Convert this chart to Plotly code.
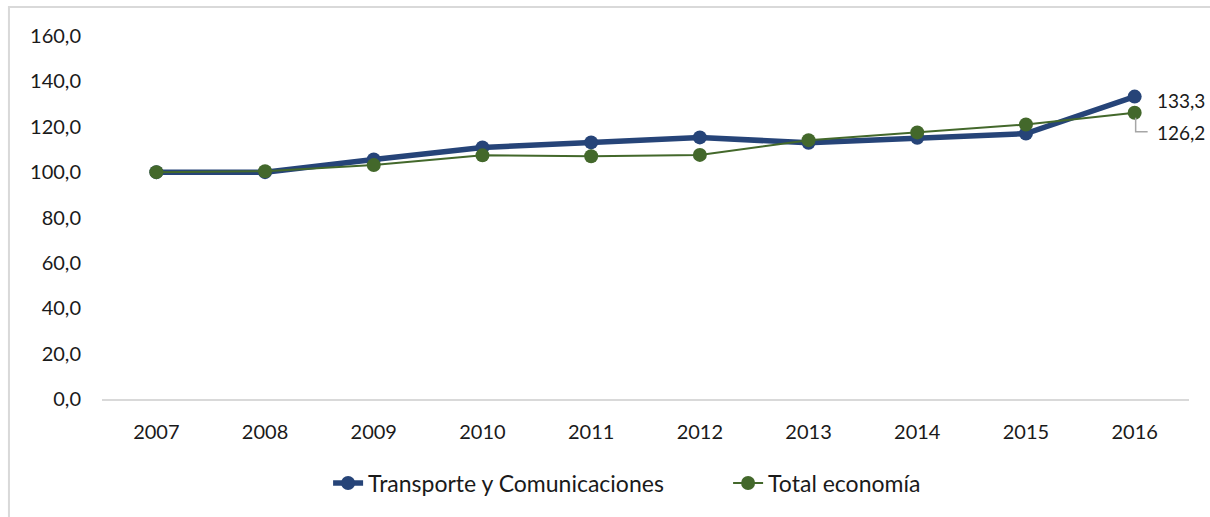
import plotly.graph_objects as go

years = [2007, 2008, 2009, 2010, 2011, 2012, 2013, 2014, 2015, 2016]
transporte = [100.0, 100.0, 105.6, 110.9, 113.1, 115.3, 112.9, 115.1, 117.0, 133.3]
total = [100.0, 100.4, 103.1, 107.4, 107.0, 107.6, 114.1, 117.5, 121.0, 126.2]
y_ticks = [0, 20, 40, 60, 80, 100, 120, 140, 160]

blue = "#264478"
green = "#43682B"
font_name = "Lato"

fig = go.Figure()

fig.add_trace(go.Scatter(
    x=years, y=transporte,
    mode="lines+markers",
    line=dict(color=blue, width=5.5),
    marker=dict(size=14, color=blue),
    name="Transporte y Comunicaciones",
))

fig.add_trace(go.Scatter(
    x=years, y=total,
    mode="lines+markers",
    line=dict(color=green, width=2),
    marker=dict(size=14, color=green),
    name="Total economía",
))

# end labels
fig.add_annotation(
    x=years[-1], y=transporte[-1],
    text=f"{transporte[-1]:.1f}".replace(".", ","),
    showarrow=False, xanchor="left", xshift=20, yshift=-4,
    font=dict(size=19, color="#1a1a1a", family=font_name),
)
fig.add_annotation(
    x=years[-1], y=total[-1],
    text=f"{total[-1]:.1f}".replace(".", ","),
    showarrow=False, xanchor="left", xshift=20, yshift=-20,
    font=dict(size=19, color="#1a1a1a", family=font_name),
)
# elbow leader line for the lower label
fig.add_shape(
    type="path",
    xref="x", yref="y",
    xsizemode="pixel", ysizemode="pixel",
    xanchor=years[-1], yanchor=total[-1],
    path="M 1,-5 L 1,-19 L 13,-19",
    line=dict(color="#a6a6a6", width=1.5),
)

# outer frame
fig.add_shape(
    type="rect", xref="paper", yref="paper",
    x0=-0.0856, x1=1.03, y0=-0.4, y1=1.0799,
    line=dict(color="#d9d9d9", width=2),
    layer="below",
)

fig.update_layout(
    width=1210, height=517,
    margin=dict(l=102, r=21, t=36, b=118),
    plot_bgcolor="white", paper_bgcolor="white",
    separators=", ",
    font=dict(family=font_name, size=20, color="#1a1a1a"),
    xaxis=dict(
        range=[years[0] - 0.5, years[-1] + 0.5],
        tickvals=years, ticktext=[str(y) for y in years],
        showgrid=False, zeroline=False,
        showline=True, linecolor="#d9d9d9", linewidth=2,
        ticks="", ticklabelstandoff=14,
        tickfont=dict(size=20),
    ),
    yaxis=dict(
        range=[0, 160], tickvals=y_ticks, tickformat=".1f",
        showgrid=False, zeroline=False, showline=False,
        ticks="", ticklabelstandoff=20,
        tickfont=dict(size=20),
    ),
    legend=dict(
        orientation="h", x=0.208, xanchor="left",
        y=-0.2314, yanchor="middle",
        font=dict(size=23),
        entrywidth=355,
    ),
    showlegend=True,
)

fig.write_html(
    "out.html",
    config={"displayModeBar": False},
    post_script="document.body.style.margin='0px';",
)
